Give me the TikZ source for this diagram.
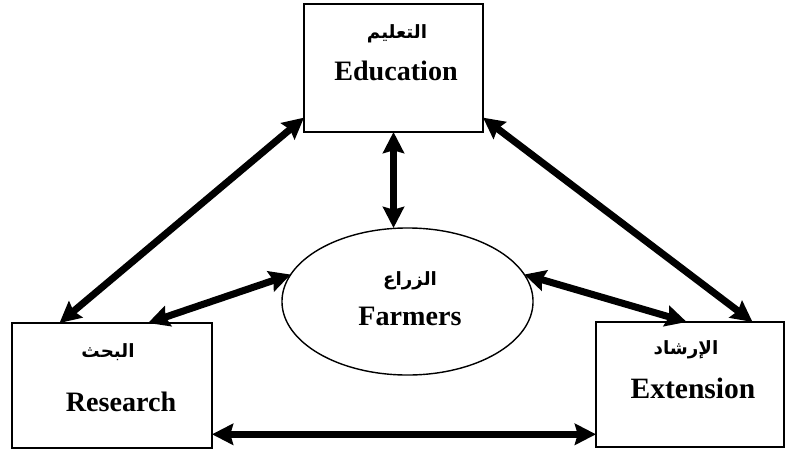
\documentclass[tikz,border=0pt]{standalone}
\usepackage{fontspec}
\setmainfont{Liberation Serif}
\newfontfamily\arabicfont[Script=Arabic]{DejaVu Sans}
\TeXXeTstate=1
\usetikzlibrary{arrows.meta,shapes.geometric}
\begin{document}
\begin{tikzpicture}[x=0.025cm, y=-0.025cm,
    box/.style={draw, line width=1.2pt, outer sep=0pt, inner sep=0pt},
    link/.style={line width=5pt, {Stealth[length=15pt,width=15pt,inset=2pt]}-{Stealth[length=15pt,width=15pt,inset=2pt]}},
    entext/.style={font=\fontsize{20}{24}\selectfont\bfseries, inner sep=0pt},
    artext/.style={font=\arabicfont\fontsize{13}{16}\selectfont\bfseries, inner sep=0pt}]
\useasboundingbox (0,0) rectangle (786,453);

    % boxes
    \node[box, minimum width=4.475cm, minimum height=3.2cm] (edu) at (393.5,68) {};
    \node[box, minimum width=5cm, minimum height=3.125cm] (res) at (112,385.5) {};
    \node[box, minimum width=4.7cm, minimum height=3.125cm] (ext) at (690,384.5) {};
    \node[draw, ellipse, line width=1pt, outer sep=0pt, inner sep=0pt, minimum width=6.275cm, minimum height=3.675cm] (farm) at (407.5,301.5) {};

    % labels
    \node[artext] (eduAr) at (397,34) {\beginR التعليم\endR};
    \node[entext] (eduEn) at (396,71) {Education};
    \node[artext] (resAr) at (108,352) {\beginR البحث\endR};
    \node[entext] (resEn) at (121,402) {Research};
    \node[artext] (extAr) at (686,350) {\beginR الإرشاد\endR};
    \node[entext, font=\fontsize{21}{25}\selectfont\bfseries] (extEn) at (693,388) {Extension};
    \node[artext] (farmAr) at (410,281) {\beginR الزراع\endR};
    \node[entext] (farmEn) at (410,316) {Farmers};

    % connectors
    \draw[link] (edu.209) -- (res.130);
    \draw[link] (edu.-29) -- (ext.45);
    \draw[link] (edu.south) -- (edu.south |- farm.north);
    \draw[link] (res.60) -- (farm.167);
    \draw[link] (farm.13) -- (ext.93);
    \draw[link] (res.-26) -- (res.-26 -| ext.west);
\end{tikzpicture}
\end{document}
